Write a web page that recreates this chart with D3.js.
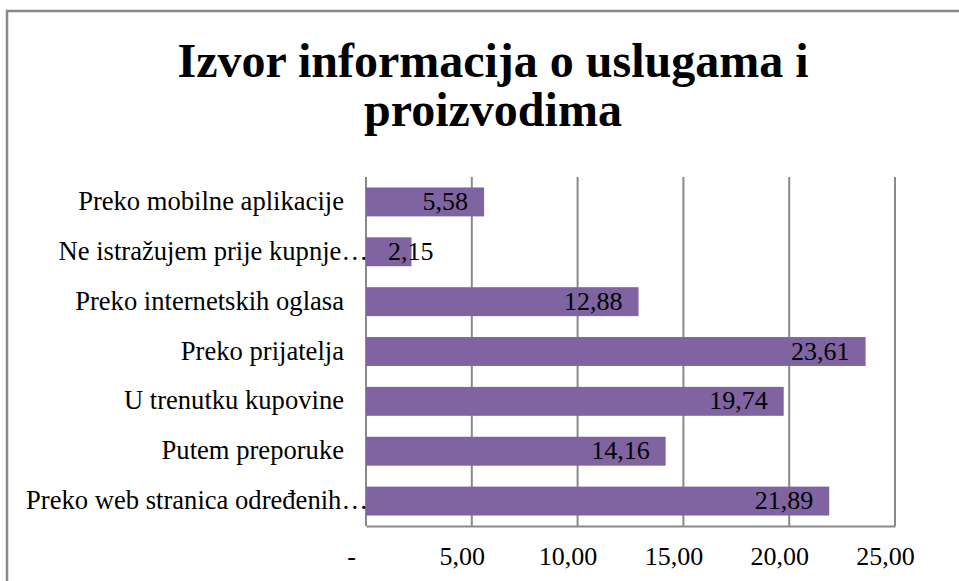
<!DOCTYPE html>
<html>
<head>
<meta charset="utf-8">
<title>Izvor informacija o uslugama i proizvodima</title>
<script src="https://d3js.org/d3.v7.min.js"></script>
<style>
  body { margin: 0; background: #fff; }
  svg { display: block; font-family: "Liberation Serif", "Times New Roman", serif; }
</style>
</head>
<body>
<div id="chart"></div>
<script>
// data
var categories = [
    "Preko mobilne aplikacije",
    "Ne istražujem prije kupnje…",
    "Preko internetskih oglasa",
    "Preko prijatelja",
    "U trenutku kupovine",
    "Putem preporuke",
    "Preko web stranica određenih…"
];
var values = [5.58, 2.15, 12.88, 23.61, 19.74, 14.16, 21.89];
var tickValues = [0, 5, 10, 15, 20, 25];
var titleLines = ["Izvor informacija o uslugama i", "proizvodima"];

var W = 959, H = 581;
var plot = {left: 366, right: 895, top: 177, bottom: 526};
var barColor = "#8064a2";
var gridColor = "#898989";

var loc = d3.formatLocale({decimal: ",", thousands: ".", grouping: [3], currency: ["", ""]});
var fmt = loc.format(".2f");

var svg = d3.select("#chart").append("svg")
    .attr("width", W)
    .attr("height", H);

// outer chart border
svg.append("rect")
    .attr("x", 7).attr("y", 11)
    .attr("width", 1000).attr("height", 700)
    .attr("fill", "none")
    .attr("stroke", gridColor)
    .attr("stroke-width", 2.5);

// title, one text with two lines
svg.append("text")
    .attr("text-anchor", "middle")
    .attr("font-size", "48px")
    .attr("font-weight", "bold")
    .selectAll("tspan")
    .data(titleLines)
    .join("tspan")
    .attr("x", 493)
    .attr("y", function(d, i) { return 77 + i * 49; })
    .text(function(d) { return d; });

var x = d3.scaleLinear()
    .domain([0, 25])
    .range([plot.left, plot.right]);

var y = d3.scaleBand()
    .domain(categories)
    .range([plot.top, plot.bottom])
    .paddingInner(0.42)
    .paddingOuter(0.21);

// vertical gridlines
svg.append("g").selectAll("line")
    .data(tickValues.slice(1))
    .join("line")
    .attr("x1", function(d) { return x(d); })
    .attr("x2", function(d) { return x(d); })
    .attr("y1", plot.top)
    .attr("y2", plot.bottom)
    .attr("stroke", gridColor)
    .attr("stroke-width", 2);

// x axis
var xAxis = svg.append("g")
    .attr("transform", "translate(0," + plot.bottom + ")")
    .call(d3.axisBottom(x)
        .tickValues(tickValues)
        .tickSize(0)
        .tickPadding(0)
        .tickFormat(function(d) { return d === 0 ? "-" : fmt(d); }));
xAxis.select(".domain").attr("stroke", gridColor).attr("stroke-width", 2);
xAxis.selectAll("text")
    .attr("font-family", "Liberation Serif, Times New Roman, serif")
    .attr("font-size", "26px")
    .attr("fill", "#000")
    .attr("dy", 0)
    .attr("y", 39)
    .attr("x", function(d) { return d === 0 ? -15 : -10; });

// y axis line
svg.append("line")
    .attr("x1", plot.left).attr("x2", plot.left)
    .attr("y1", plot.top).attr("y2", plot.bottom)
    .attr("stroke", gridColor)
    .attr("stroke-width", 2);

// bars
svg.append("g").selectAll("rect")
    .data(values)
    .join("rect")
    .attr("x", x(0))
    .attr("y", function(d, i) { return y(categories[i]); })
    .attr("width", function(d) { return x(d) - x(0); })
    .attr("height", y.bandwidth())
    .attr("fill", barColor);

// category labels
svg.append("g").selectAll("text")
    .data(categories)
    .join("text")
    .attr("x", function(d) { return d.endsWith("…") ? plot.left + 2 : 344; })
    .attr("y", function(d) { return y(d) + y.bandwidth() / 2 + 8; })
    .attr("text-anchor", "end")
    .attr("font-size", "26.6px")
    .attr("fill", "#000")
    .text(function(d) { return d; });

// value labels, inside end
svg.append("g").selectAll("text")
    .data(values)
    .join("text")
    .attr("y", function(d, i) { return y(categories[i]) + y.bandwidth() / 2 + 8; })
    .attr("font-size", "26px")
    .attr("fill", "#000")
    .text(function(d) { return fmt(d); })
    .each(function(d) {
        var w = this.getComputedTextLength();
        var start = x(d) - 16 - w;
        if (start < plot.left + 22) start = plot.left + 22;
        d3.select(this).attr("x", start);
    });
</script>
</body>
</html>
